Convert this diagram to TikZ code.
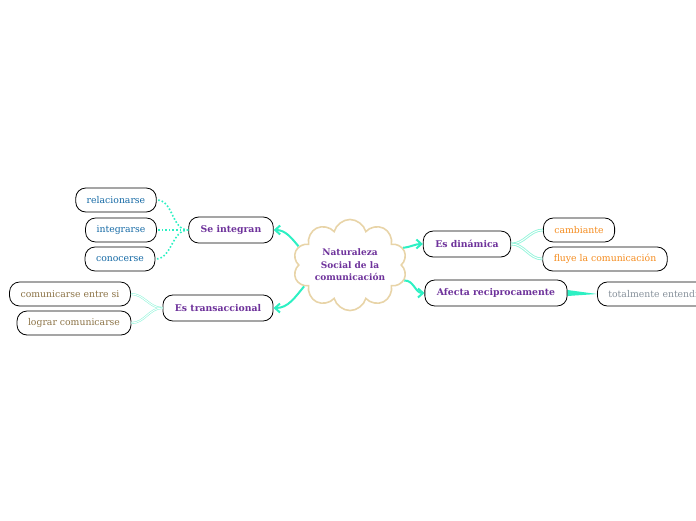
\documentclass[tikz,border=0pt]{standalone}
\usepackage{fontspec}
\setmainfont{DejaVu Serif}
\usetikzlibrary{shapes.symbols,arrows.meta}
\definecolor{linkteal}{RGB}{45,240,195}
\definecolor{softteal}{RGB}{150,245,220}
\definecolor{titlepurple}{RGB}{110,50,155}
\definecolor{kidblue}{RGB}{20,105,165}
\definecolor{kidbrown}{RGB}{140,115,70}
\definecolor{kidorange}{RGB}{245,140,30}
\definecolor{kidgray}{RGB}{135,145,155}
\definecolor{cloudtan}{RGB}{232,212,168}
\tikzset{
  topic/.style={draw=black, fill=white, line width=0.8pt, rounded corners=10pt,
    minimum height=26pt, inner xsep=12pt, text=titlepurple,
    font=\fontsize{9.3}{11}\selectfont\bfseries},
  leaf/.style={draw=black, fill=white, line width=0.8pt, rounded corners=10pt,
    minimum height=24pt, inner xsep=11pt, font=\fontsize{9.3}{11}\selectfont},
  mainlink/.style={linkteal, line width=2pt, -{Straight Barb[length=5pt,width=9pt]}},
  dotlink/.style={linkteal, line width=1.6pt, dotted},
  twinlink/.style={draw=softteal, double=white, line width=0.6pt, double distance=0.9pt},
}
\begin{document}
\begin{tikzpicture}[x=1pt,y=-1pt]
    \clip (0,0) rectangle (696,520);
    % Draw central cloud
    \node[cloud, cloud puffs=10, aspect=1.4, draw=cloudtan, fill=white, line width=1.6pt,
      inner sep=0pt, minimum width=114pt, minimum height=86pt, align=center, text=titlepurple,
      font=\fontsize{9}{12.5}\selectfont\bfseries] (nature) at (350,265)
      {Naturaleza\\Social de la\\comunicación};
    % Draw main topics
    \node[topic] (integran) at (231,230) {Se integran};
    \node[topic] (transac) at (218,308) {Es transaccional};
    \node[topic] (dinamica) at (467,244) {Es dinámica};
    \node[topic] (afecta) at (496,293) {Afecta reciprocamente};
    % Draw leaves on the left
    \node[leaf, text=kidblue] (relac) at (116,200) {relacionarse};
    \node[leaf, text=kidblue] (integr) at (121,230) {integrarse};
    \node[leaf, text=kidblue] (conoc) at (120,259) {conocerse};
    \node[leaf, text=kidbrown] (entresi) at (70,294) {comunicarse entre si};
    \node[leaf, text=kidbrown] (lograr) at (74,323) {lograr comunicarse};
    % Draw leaves on the right
    \node[leaf, text=kidorange] (cambia) at (579,230) {cambiante};
    \node[leaf, text=kidorange] (fluye) at (605,259) {fluye la comunicación};
    \node[leaf, text=kidgray, anchor=west] (total) at (597,294) {totalmente entendido};
    % Draw links from the cloud
    \draw[mainlink] (nature.160) to[out=130,in=0] (integran.east);
    \draw[mainlink] (nature.205) to[out=230,in=0] (transac.east);
    \draw[mainlink] (nature.18) to[out=5,in=180] (dinamica.west);
    \draw[mainlink] (nature.-16) to[out=5,in=180] (afecta.west);
    % Draw dotted links
    \draw[dotlink] (integran.west) to[out=180,in=0] (relac.east);
    \draw[dotlink] (integran.west) -- (integr.east);
    \draw[dotlink] (integran.west) to[out=180,in=0] (conoc.east);
    % Draw twin links
    \draw[twinlink] (transac.west) to[out=180,in=0] (entresi.east);
    \draw[twinlink] (transac.west) to[out=180,in=0] (lograr.east);
    \draw[twinlink, line width=0.9pt] (dinamica.east) to[out=0,in=180] (cambia.west);
    \draw[twinlink, line width=0.9pt] (dinamica.east) to[out=0,in=180] (fluye.west);
    % Draw tapered link
    \fill[linkteal] ([yshift=-3pt]afecta.east) -- (total.west) -- ([yshift=3pt]afecta.east) -- cycle;
\end{tikzpicture}
\end{document}
